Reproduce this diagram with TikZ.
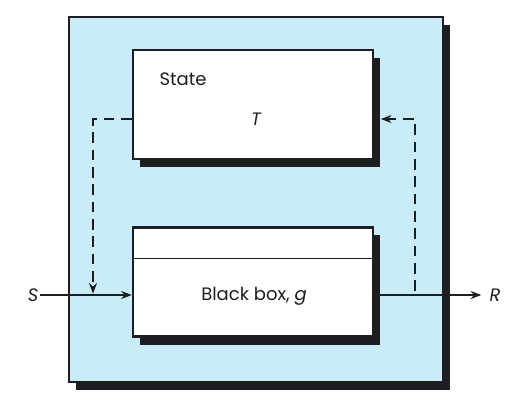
\documentclass[tikz,border=0pt]{standalone}
\usepackage{fontspec}
\setmainfont{Poppins}
\usetikzlibrary{arrows.meta, positioning, calc, shadows}
\definecolor{frameblue}{RGB}{201, 236, 248}
\definecolor{inkdark}{RGB}{30, 30, 34}
\tikzset{
    framebox/.style={
        rectangle, draw=inkdark, line width=1.8pt, fill=frameblue, inner sep=0pt,
        minimum width=280.5pt, minimum height=273.75pt,
        drop shadow={shadow xshift=5.5pt, shadow yshift=-6pt, fill=inkdark, opacity=1}
    },
    blockbox/.style={
        framebox, fill=white, minimum width=180pt, minimum height=82pt,
        drop shadow={shadow xshift=5pt, shadow yshift=-6pt, fill=inkdark, opacity=1}
    },
    signal/.style={-{Stealth[length=8pt, width=6pt]}, line width=1.4pt, color=inkdark},
    feedback/.style={signal, dash pattern=on 8pt off 5pt},
    divider/.style={line width=0.8pt, color=inkdark},
    txt/.style={font=\fontsize{13.5}{15}\selectfont, text=inkdark, inner sep=1pt},
    var/.style={txt, font=\fontsize{13.5}{15}\selectfont\itshape},
}
\begin{document}
\begin{tikzpicture}[x=0.75pt, y=-0.75pt]
        \useasboundingbox (0,0) rectangle (520,414);
        \node[framebox] (frame) at (256,199.5) {};
        \node[blockbox] (sbox) at (253,104.5) {};
        \node[blockbox] (bbox) at (253,282) {};
        \draw[divider] ($(bbox.north west)+(0,32)$) -- ($(bbox.north east)+(0,32)$);
        \node[txt, anchor=west] (statelbl) at (158,79) {State};
        \node[var] (T) at (256,119) {T};
        \node[txt] (bblbl) at (254,296) {Black box, \textit{g}};
        \node[var] (S) at (33,295) {S};
        \node[var] (R) at (495,295) {R};
        \coordinate (merge) at (93,295);
        \coordinate (tap) at (415,295);
        \draw[signal] (S.east) -- (S.east -| bbox.west);
        \draw[signal, shorten >=5pt] (bbox.east |- R) -- (R.west);
        \draw[feedback, shorten >=1pt] (sbox.west |- T) -| (merge);
        \draw[feedback, shorten <=3pt, shorten >=5pt] (tap) |- (sbox.east |- T);
    \end{tikzpicture}
\end{document}
